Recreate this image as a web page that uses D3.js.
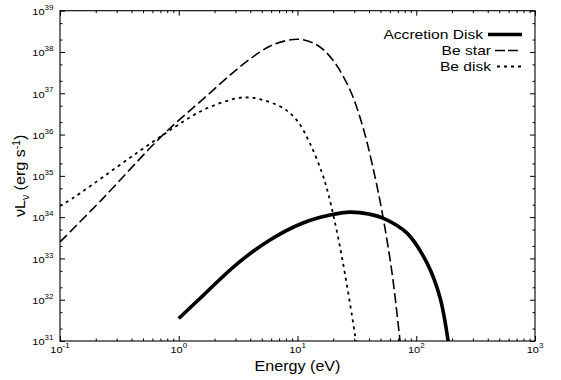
<!DOCTYPE html>
<html>
<head>
<meta charset="utf-8">
<script src="https://cdn.jsdelivr.net/npm/d3@7"></script>
<style>
html,body{margin:0;padding:0;background:#fff;}
svg{display:block;}
text{font-family:"Liberation Sans",Arial,Helvetica,sans-serif;fill:#000;}
</style>
</head>
<body>
<svg id="chart" width="561" height="380"></svg>
<script>
// ---- data ----
const seriesNames = ["Accretion Disk", "Be star", "Be disk"];

const accretionE = [1.0, 1.6, 3.1, 5.86, 11.1, 18.8, 27.7, 40.8, 52.5, 83.6, 123, 158, 185, 190];
const accretionL = [3.5e31, 1.26e32, 7.4e32, 2.8e33, 7.2e33, 1.12e34, 1.32e34, 1.17e34, 9.5e33, 4.1e33, 7.8e32, 1.17e32, 1.05e31, 5e30];

const beStarE = [0.1, 0.226, 0.736, 1.6, 3.28, 4.83, 6.22, 10.1, 14.6, 19.9, 27.7, 35.6, 45.0, 52.5, 62.5, 72.9, 75];
const beStarL = [2.5e33, 2.7e34, 9.8e35, 7.2e36, 4.4e37, 1.0e38, 1.5e38, 2.04e38, 1.48e38, 6.3e37, 1.2e37, 1.5e36, 9.3e34, 1.0e34, 4.5e32, 1.05e31, 5e30];

const beDiskE = [0.1, 0.1286, 0.736, 1.6, 3.1, 3.9, 4.83, 7.55, 9.9, 12.7, 16.1, 18.1, 22.8, 30.5, 31.6];
const beDiskL = [1.86e34, 2.9e34, 9.8e35, 3.9e36, 7.6e36, 7.9e36, 7.2e36, 4.4e36, 2.2e36, 6.2e35, 1.17e35, 3.8e34, 1.9e33, 1.4e31, 6.3e30];

const xTickExps = ["-1", "0", "1", "2", "3"];
const yTickExps = ["31", "32", "33", "34", "35", "36", "37", "38", "39"];
const xAxisTitle = "Energy (eV)";

// ---- layout ----
const svg = d3.select("#chart");
const L = 60, R = 535, T = 10.7, B = 341;
const x = d3.scaleLog().domain([0.1, 1000]).range([L, R]);
const y = d3.scaleLog().domain([1e31, 1e39]).range([B, T]);

const isMajor = v => Math.abs(Math.log10(v) - Math.round(Math.log10(v))) < 1e-9;
const xMinor = x.ticks().filter(v => !isMajor(v));
const xMajor = x.ticks().filter(isMajor);
const yAll = y.ticks().filter(v => { const d = Math.round(v / Math.pow(10, Math.floor(Math.log10(v) + 1e-9))); return d === 1 || d === 2 || d === 5; });
const yMinor = yAll.filter(v => !isMajor(v));
const yMajor = yAll.filter(isMajor);

const MAJ = 5, MIN = 2.5;
function axisTicks(axisFn, scale, vals, size, tx, ty) {
  const g = svg.append("g").attr("transform", `translate(${tx},${ty})`)
    .call(axisFn(scale).tickValues(vals).tickSizeInner(-size).tickSizeOuter(0).tickFormat(""));
  g.select(".domain").remove();
  g.selectAll("line").attr("stroke", "#000").attr("stroke-width", 1);
}
axisTicks(d3.axisBottom, x, xMajor, MAJ, 0, B);
axisTicks(d3.axisBottom, x, xMinor, MIN, 0, B);
axisTicks(d3.axisTop, x, xMajor, MAJ, 0, T);
axisTicks(d3.axisTop, x, xMinor, MIN, 0, T);
axisTicks(d3.axisLeft, y, yMajor, MAJ, L, 0);
axisTicks(d3.axisLeft, y, yMinor, MIN, L, 0);
axisTicks(d3.axisRight, y, yMajor, MAJ, R, 0);
axisTicks(d3.axisRight, y, yMinor, MIN, R, 0);

// clip + curves
svg.append("clipPath").attr("id", "clip").append("rect")
  .attr("x", L).attr("y", T).attr("width", R - L).attr("height", B - T);

const line = d3.line().x(d => x(d[0])).y(d => y(d[1])).curve(d3.curveCatmullRom.alpha(0.5));
const zip = (a, b) => a.map((v, i) => [v, b[i]]);
const plot = svg.append("g").attr("clip-path", "url(#clip)");

plot.append("path").datum(zip(beStarE, beStarL)).attr("d", line)
  .attr("fill", "none").attr("stroke", "#000").attr("stroke-width", 1.6).attr("stroke-dasharray", "10,4");
plot.append("path").datum(zip(beDiskE, beDiskL)).attr("d", line)
  .attr("fill", "none").attr("stroke", "#000").attr("stroke-width", 1.8).attr("stroke-dasharray", "3,4");
plot.append("path").datum(zip(accretionE, accretionL)).attr("d", line)
  .attr("fill", "none").attr("stroke", "#000").attr("stroke-width", 3.6);

// frame
svg.append("rect").attr("x", L).attr("y", T).attr("width", R - L).attr("height", B - T)
  .attr("fill", "none").attr("stroke", "#000").attr("stroke-width", 1.1);

// text helper: horizontally widened text
const SX = 1.15;
function powLabel(px, py, exp, anchor) {
  const t = svg.append("text").attr("transform", `translate(${px},${py}) scale(${SX},1)`)
    .attr("text-anchor", anchor);
  t.append("tspan").attr("font-size", 9.6).text("10");
  t.append("tspan").attr("font-size", 7).attr("dy", -5.2).text(exp);
}
xMajor.forEach((v, i) => powLabel(x(v), B + 12, xTickExps[i], "middle"));
yMajor.forEach((v, i) => powLabel(L - 6.5, y(v) + 4.3, yTickExps[i], "end"));

// axis titles
svg.append("text").attr("transform", `translate(${(L + R) / 2},370.5) scale(1.15,1)`)
  .attr("text-anchor", "middle").attr("font-size", 14).text(xAxisTitle);

const yt = svg.append("text").attr("transform", `translate(25,${(T + B) / 2}) rotate(-90) scale(1.04,1)`)
  .attr("text-anchor", "middle").attr("font-size", 15.5);
yt.append("tspan").text("\u03bdL");
yt.append("tspan").attr("font-size", 10).attr("dy", 3.5).text("\u03bd");
yt.append("tspan").attr("dy", -3.5).text(" (erg  s");
yt.append("tspan").attr("font-size", 10).attr("dy", -5.5).text("-1");
yt.append("tspan").attr("dy", 5.5).text(")");

// legend
const legendRows = [
  {name: seriesNames[0], tx: 483, ty: 38.5, x1: 488, x2: 522, ly: 34.5, w: 3.6, dash: null},
  {name: seriesNames[1], tx: 491, ty: 54.5, x1: 495, x2: 520, ly: 50.5, w: 1.6, dash: "10,3"},
  {name: seriesNames[2], tx: 491, ty: 70.5, x1: 497, x2: 521, ly: 66.5, w: 1.8, dash: "3,4"}
];
legendRows.forEach(r => {
  svg.append("text").attr("transform", `translate(${r.tx},${r.ty}) scale(1.2,1)`)
    .attr("text-anchor", "end").attr("font-size", 13).text(r.name);
  const ln = svg.append("line").attr("x1", r.x1).attr("x2", r.x2).attr("y1", r.ly).attr("y2", r.ly)
    .attr("stroke", "#000").attr("stroke-width", r.w);
  if (r.dash) ln.attr("stroke-dasharray", r.dash);
});
</script>
</body>
</html>
